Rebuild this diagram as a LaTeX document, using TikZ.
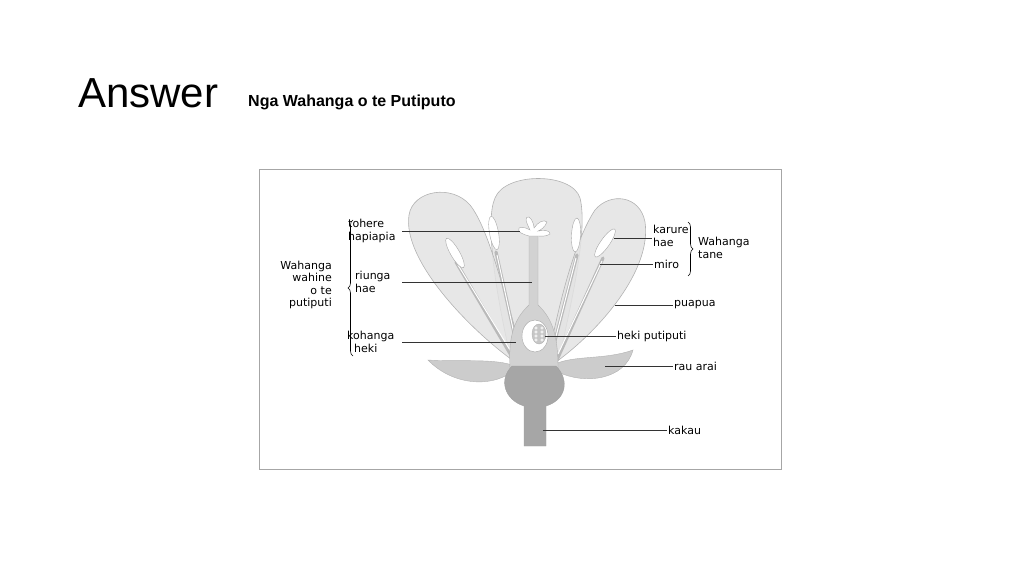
\documentclass[tikz,border=0pt]{standalone}
\usepackage{fontspec}
\setmainfont{Liberation Sans}
\newfontfamily\lblfont{DejaVu Sans}
\usetikzlibrary{positioning,shapes.geometric,decorations.pathreplacing}

\begin{document}
\begin{tikzpicture}[
		x=1pt, y=-1pt,
		lbl/.style={
			font=\lblfont\fontsize{11}{12.5}\selectfont,
			inner sep=1pt,
			align=left
		},
		ptr/.style={
			draw=black!80,
			line width=0.7pt
		},
		petal/.style={
			fill=gray!22,
			draw=gray!60,
			line width=0.6pt,
			fill opacity=0.85
		},
		filament/.style={
			line width=3.2pt,
			draw=gray!55,
			line cap=round
		},
		anther/.style={
			ellipse,
			draw=gray!70,
			fill=white,
			minimum width=9pt,
			minimum height=34pt,
			inner sep=0pt
		},
		bracket/.style={
			draw,
			decorate,
			decoration={brace,amplitude=5pt},
			line width=0.6pt
		}
	]
	\useasboundingbox (0,0) rectangle (1024,576);
	% Titles
	\node[anchor=base west, inner sep=0pt, font=\fontsize{42}{46}\selectfont] (title) at (78,107) {Answer};
	\node[anchor=base west, inner sep=0pt, font=\bfseries\fontsize{16}{18}\selectfont] (subtitle) at (248,106) {Nga Wahanga o te Putiputo};
	% Frame
	\draw[gray!70, line width=0.8pt] (259,169) rectangle (781,469);

	% Petals
	\path[petal] (510,355) .. controls (495,290) and (485,220) .. (495,198) .. controls (505,172) and (572,172) .. (580,198) .. controls (588,230) and (572,300) .. (560,355) -- cycle;
	\path[petal] (515,362) .. controls (470,330) and (402,260) .. (409,215) .. controls (413,190) and (452,184) .. (470,205) .. controls (490,230) and (505,300) .. (522,350) -- cycle;
	\path[petal] (556,362) .. controls (600,330) and (652,270) .. (645,222) .. controls (640,195) and (610,192) .. (595,210) .. controls (575,240) and (560,300) .. (550,350) -- cycle;

	% Sepals
	\path[fill=gray!40, draw=gray!60] (512,372) .. controls (490,388) and (452,385) .. (428,360) .. controls (460,362) and (495,358) .. (515,366) -- cycle;
	\path[fill=gray!40, draw=gray!60] (558,372) .. controls (585,385) and (625,380) .. (633,350) .. controls (605,360) and (575,355) .. (555,364) -- cycle;

	% Stamens
	\draw[filament] (515,362) -- (456,262);
	\draw[filament] (520,360) -- (496,252);
	\draw[filament] (550,360) -- (577,255);
	\draw[filament] (556,362) -- (603,258);
	\draw[white, line width=1pt] (513,355) -- (458,265) (518,352) -- (497,255) (552,352) -- (576,258) (558,354) -- (602,261);
	\node[anther, rotate=30] (antherA) at (455,253) {};
	\node[anther, rotate=10] (antherB) at (494,233) {};
	\node[anther, rotate=-3] (antherC) at (576,235) {};
	\node[anther, rotate=-35] (antherD) at (605,243) {};

	% Pistil
	\path[fill=gray!35, draw=gray!60] (510,368) .. controls (508,335) and (515,318) .. (529,305) -- (529,236) -- (538,236) -- (538,305) .. controls (552,318) and (558,335) .. (558,368) -- cycle;
	\path[fill=white, draw=gray!70] (529,236) .. controls (522,234) and (517,232) .. (519,228) .. controls (523,226) and (528,229) .. (530,230) .. controls (526,222) and (524,216) .. (529,217) .. controls (533,220) and (534,226) .. (534,228) .. controls (538,222) and (544,219) .. (547,222) .. controls (545,227) and (541,230) .. (538,231) .. controls (544,230) and (550,230) .. (550,234) .. controls (546,237) and (540,236) .. (538,236) -- cycle;
	\path[fill=white, draw=gray!70] (535,336) ellipse [x radius=13, y radius=16];
	\path[fill=gray!45, draw=gray!60] (539,334) ellipse [x radius=7, y radius=10];
	\foreach \dy in {-6,-2,2,6} {
		\draw[white, line width=0.5pt] (536,334+\dy) circle (1.3) (542,334+\dy) circle (1.3);
	}

	% Receptacle and stem
	\path[fill=gray!70, draw=gray!75] (512,366) .. controls (498,380) and (505,400) .. (524,406) -- (524,446) -- (546,446) -- (546,406) .. controls (566,400) and (570,380) .. (556,366) -- cycle;

	% Labels, female parts
	\node[lbl, anchor=west] (tohere) at (347,231) {tohere\\hapiapia};
	\node[lbl, anchor=west] (riunga) at (354,282) {riunga\\hae};
	\node[lbl, anchor=west] (kohanga) at (346,342) {kohanga\\\ \ heki};
	\node[lbl, align=right, anchor=east] (wahine) at (333,285) {Wahanga\\wahine\\o te\\putiputi};
	\draw[ptr] (402,231) -- (520,231);
	\draw[ptr] (402,282) -- (532,282);
	\draw[ptr] (402,342) -- (516,342);
	\draw[bracket] (353,356) -- (353,220);

	% Labels, male parts
	\node[lbl, anchor=west] (karure) at (652,236) {karure\\hae};
	\node[lbl, anchor=west] (miro) at (653,264) {miro};
	\node[lbl, anchor=west] (tane) at (697,248) {Wahanga\\tane};
	\draw[ptr] (614,238) -- (652,238);
	\draw[ptr] (600,264) -- (miro.west);
	\draw[bracket] (688,222) -- (688,276);

	% Labels, other parts
	\node[lbl, anchor=west] (puapua) at (673,305) {puapua};
	\node[lbl, anchor=west] (heki) at (616,336) {heki putiputi};
	\node[lbl, anchor=west] (rau) at (673,366) {rau arai};
	\node[lbl, anchor=west] (kakau) at (667,430) {kakau};
	\draw[ptr] (615,305) -- (puapua.west);
	\draw[ptr] (545,336) -- (heki.west);
	\draw[ptr] (605,366) -- (rau.west);
	\draw[ptr] (543,430) -- (kakau.west);
\end{tikzpicture}
\end{document}
